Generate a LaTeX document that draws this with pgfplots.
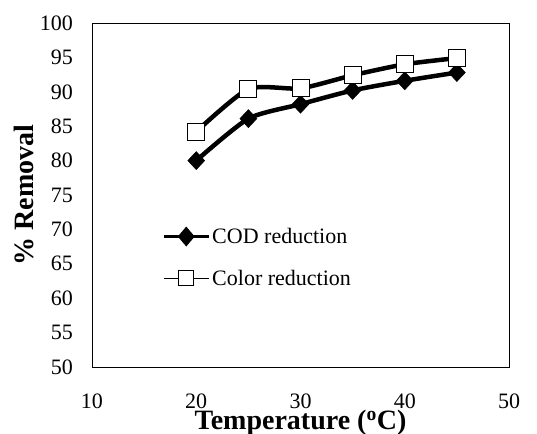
\documentclass[border=0pt]{standalone}
\usepackage{fontspec}
\setmainfont{Liberation Serif}
\usepackage{pgfplots}
\pgfplotsset{compat=1.18}
\begin{document}
\begin{tikzpicture}
\begin{axis}[
  scale only axis, width=417bp, height=344bp,
  xmin=10, xmax=50, ymin=50, ymax=100,
  xtick={10,20,...,50}, ytick={50,55,...,100},
  major tick length=0pt,
  axis line style={line width=0.8bp},
  /pgf/number format/assume math mode=true,
  tick label style={font=\fontsize{22bp}{26bp}\selectfont},
  xticklabel style={inner sep=0pt, yshift=-27bp},
  yticklabel style={inner sep=0pt, xshift=-19bp},
  xlabel={\textbf{Temperature (\textsuperscript{o}C)}},
  ylabel={\textbf{\% Removal}},
  xlabel style={font=\fontsize{28bp}{32bp}\selectfont, at={(axis description cs:0.5,-0.125)}, anchor=north, inner sep=0pt},
  ylabel style={font=\fontsize{28bp}{32bp}\selectfont, at={(axis description cs:-0.163,0.5)}, anchor=center, rotate=0, inner sep=0pt},
  legend cell align=left,
  legend style={at={(axis description cs:0.168,0.41)}, anchor=north west, draw=none, fill=none, inner sep=0pt,
    font=\fontsize{22bp}{26bp}\selectfont, row sep=21bp},
]
\addplot[black, line width=4.5bp, smooth, tension=0.4, mark=diamond*, mark size=9bp,
  mark options={solid, fill=black, xscale=1.25, line width=0.5bp},
  legend image code/.code={\draw[black, line width=3bp] (0bp,0bp) -- (45bp,0bp);
    \fill[black] (22.5bp,-6.5bp) -- (28bp,0bp) -- (22.5bp,6.5bp) -- (17bp,0bp) -- cycle;}]
  coordinates {(20,80.0) (25,86.1) (30,88.2) (35,90.2) (40,91.6) (45,92.8)};
\addlegendentry{COD reduction}
\addplot[black, line width=4.5bp, smooth, tension=0.4, mark=square*, mark size=8.5bp,
  mark options={solid, fill=white, draw=black, line width=1bp},
  legend image code/.code={\draw[black, line width=1.5bp] (0bp,0bp) -- (45bp,0bp);
    \filldraw[fill=white, draw=black, line width=1bp] (15bp,-7.5bp) rectangle (30bp,7.5bp);}]
  coordinates {(20,84.2) (25,90.4) (30,90.5) (35,92.4) (40,94.0) (45,94.9)};
\addlegendentry{Color reduction}
\end{axis}
\pgfresetboundingbox
\path (-92bp,-67bp) rectangle (445bp,367bp);
\end{tikzpicture}
\end{document}
